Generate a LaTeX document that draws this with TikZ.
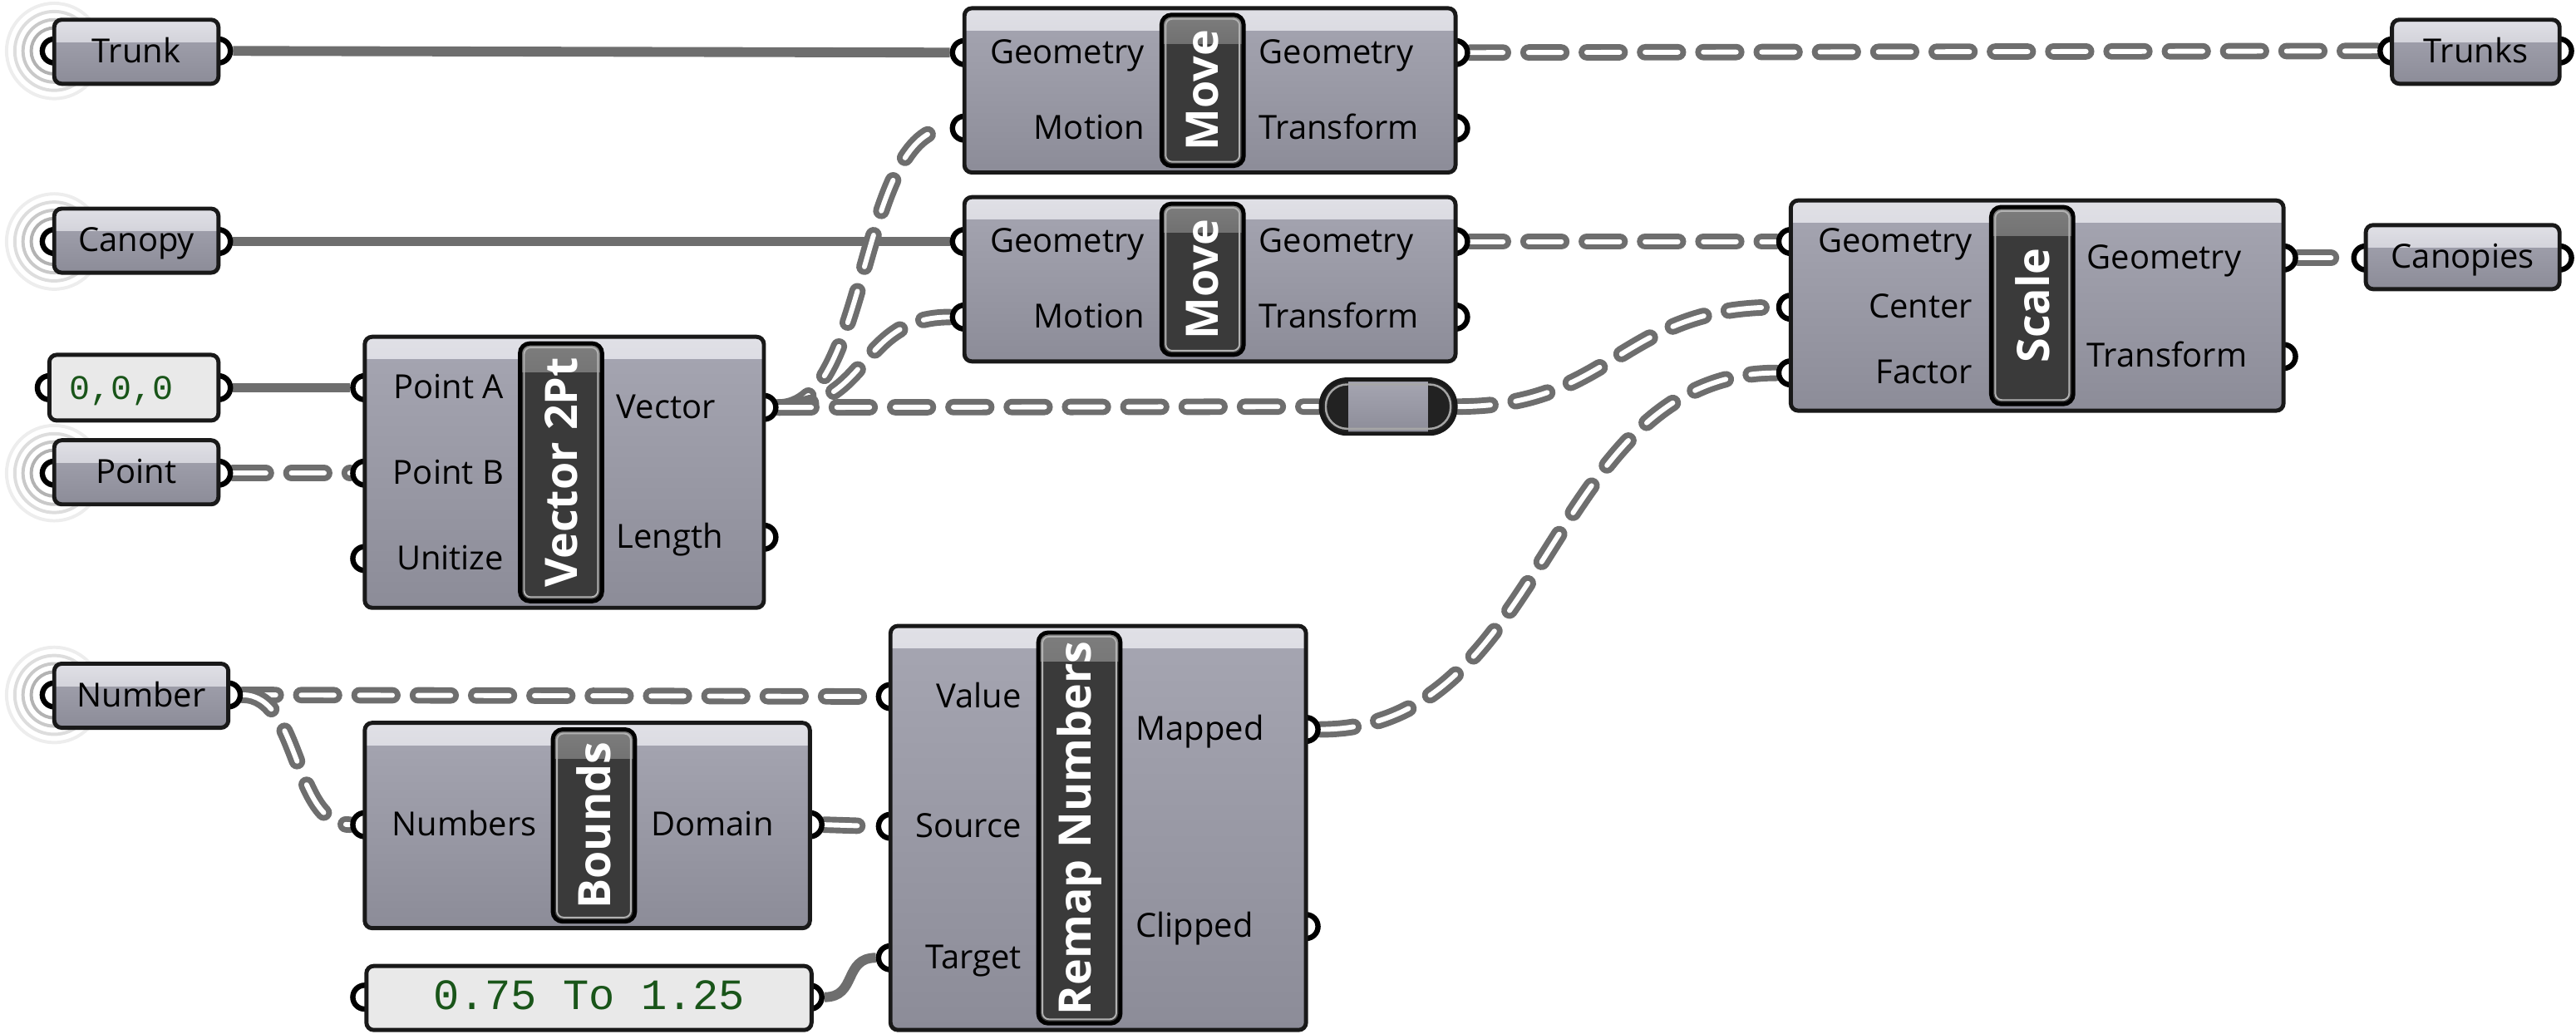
\documentclass[tikz,border=0pt]{standalone}
\usepackage{fontspec}
\setmainfont{Open Sans}
\newfontfamily\ghmono{Liberation Mono}
\usetikzlibrary{backgrounds}

\definecolor{ghline}{RGB}{25,25,25}
\definecolor{ghbodytop}{RGB}{166,166,178}
\definecolor{ghbodybot}{RGB}{140,140,152}
\definecolor{ghbandtop}{RGB}{224,224,230}
\definecolor{ghbandbot}{RGB}{188,188,198}
\definecolor{ghtabdark}{RGB}{58,58,58}
\definecolor{ghtablight}{RGB}{125,125,125}
\definecolor{ghpanelfill}{RGB}{233,233,233}
\definecolor{ghgreen}{RGB}{25,85,25}
\definecolor{ghrelayend}{RGB}{34,34,34}
\definecolor{wiregray}{RGB}{110,110,110}

\newcommand\ghfont{\fontsize{11.5}{13}\selectfont}
\newcommand\ghtabfont{\fontsize{15.5}{17}\selectfont\bfseries}

\tikzset{
  ghbox/.style={rectangle, rounded corners=0.09cm, draw=ghline, line width=0.05cm,
    top color=ghbodytop, bottom color=ghbodybot, inner sep=0pt,
    path picture={\shade[sharp corners, top color=ghbandtop, bottom color=ghbandbot]
      (path picture bounding box.north west) rectangle ([yshift=-0.27cm]path picture bounding box.north east);}},
  ghparam/.style={ghbox, minimum height=0.78cm, font=\ghfont, text height=8pt, text depth=0.5pt},
  ghtab/.style={rectangle, rounded corners=0.12cm, draw=black, line width=0.05cm, fill=ghtabdark,
    text=white, font=\ghtabfont, inner sep=0pt, minimum width=1.0cm,
    path picture={\shade[sharp corners, top color=ghtablight, bottom color=ghtabdark]
      (path picture bounding box.north west) rectangle ([yshift=-0.35cm]path picture bounding box.north east);
      \draw[gray!60, line width=0.02cm, rounded corners=0.08cm]
      ([shift={(0.05cm,-0.05cm)}]path picture bounding box.north west) rectangle ([shift={(-0.05cm,0.05cm)}]path picture bounding box.south east);}},
  ghpanel/.style={rectangle, rounded corners=0.09cm, draw=ghline, line width=0.05cm, fill=ghpanelfill,
    minimum height=0.8cm, text=ghgreen, inner sep=0pt, text height=9pt, text depth=1pt},
  ghrelay/.style={rectangle, rounded corners=0.32cm, draw=ghline, line width=0.05cm, fill=ghrelayend,
    minimum width=1.64cm, minimum height=0.66cm, inner sep=0pt,
    path picture={\shade[sharp corners, top color=ghbodytop, bottom color=ghbodybot]
      ([xshift=-0.48cm]path picture bounding box.north) rectangle ([xshift=0.48cm]path picture bounding box.south);
      \draw[gray!70, line width=0.025cm, rounded corners=0.26cm]
      ([shift={(0.06cm,-0.06cm)}]path picture bounding box.north west) rectangle ([shift={(-0.06cm,0.06cm)}]path picture bounding box.south east);}},
  ghport/.style={circle, draw=black, fill=white, line width=0.065cm, minimum size=0.29cm, inner sep=0pt},
  inlabel/.style={anchor=east, inner sep=0pt, font=\ghfont, text height=8pt, text depth=0.5pt},
  outlabel/.style={inlabel, anchor=west},
  ring/.style={line width=0.04cm},
  wire/.style={draw=wiregray, line width=0.12cm},
  listwire/.style={draw=wiregray, line width=0.07cm, double=white, double distance=0.06cm,
    line cap=round, dash pattern=on 0.4cm off 0.31cm}
}

\begin{document}
\begin{tikzpicture}[x=0.02cm, y=-0.02cm]
    \useasboundingbox (0,0) rectangle (1568,629);

    % wireless rings behind the parameters
    \draw[ring, gray!60] (33,31) circle[radius=14] (33,147) circle[radius=14] (33,288) circle[radius=14] (33,423) circle[radius=14];
    \draw[ring, gray!42] (33,31) circle[radius=19] (33,147) circle[radius=19] (33,288) circle[radius=19] (33,423) circle[radius=19];
    \draw[ring, gray!27] (33,31) circle[radius=24] (33,147) circle[radius=24] (33,288) circle[radius=24] (33,423) circle[radius=24];
    \draw[ring, gray!14] (33,31) circle[radius=29] (33,147) circle[radius=29] (33,288) circle[radius=29] (33,423) circle[radius=29];

    % the ports (the boxes cover half of each)
    \node[ghport] (trunk-in) at (33,31) {};
    \node[ghport] (trunk-out) at (133,31) {};
    \node[ghport] (canopy-in) at (33,147) {};
    \node[ghport] (canopy-out) at (133,147) {};
    \node[ghport] (origin-in) at (30,236) {};
    \node[ghport] (origin-out) at (133,236) {};
    \node[ghport] (point-in) at (33,288) {};
    \node[ghport] (point-out) at (133,288) {};
    \node[ghport] (number-in) at (33,423) {};
    \node[ghport] (number-out) at (139,423) {};
    \node[ghport] (trunks-in) at (1456,31) {};
    \node[ghport] (trunks-out) at (1558,31) {};
    \node[ghport] (canopies-in) at (1440,157) {};
    \node[ghport] (canopies-out) at (1558,157) {};
    \node[ghport] (range-in) at (222,607) {};
    \node[ghport] (range-out) at (493,607) {};
    %
    \node[ghport] (mv1-geo-in) at (587,32) {};
    \node[ghport] (mv1-mot-in) at (587,78) {};
    \node[ghport] (mv1-geo-out) at (886,32) {};
    \node[ghport] (mv1-xf-out) at (886,78) {};
    \node[ghport] (mv2-geo-in) at (587,147) {};
    \node[ghport] (mv2-mot-in) at (587,193) {};
    \node[ghport] (mv2-geo-out) at (886,147) {};
    \node[ghport] (mv2-xf-out) at (886,193) {};
    \node[ghport] (vec-a-in) at (222,236) {};
    \node[ghport] (vec-b-in) at (222,288) {};
    \node[ghport] (vec-u-in) at (222,340) {};
    \node[ghport] (vec-v-out) at (465,248) {};
    \node[ghport] (vec-l-out) at (465,327) {};
    \node[ghport] (sc-geo-in) at (1090,147) {};
    \node[ghport] (sc-cen-in) at (1090,187) {};
    \node[ghport] (sc-fac-in) at (1090,227) {};
    \node[ghport] (sc-geo-out) at (1390,157) {};
    \node[ghport] (sc-xf-out) at (1390,217) {};
    \node[ghport] (bnd-in) at (222,502) {};
    \node[ghport] (bnd-out) at (493,502) {};
    \node[ghport] (rm-val-in) at (542,424) {};
    \node[ghport] (rm-src-in) at (542,503) {};
    \node[ghport] (rm-tgt-in) at (542,583) {};
    \node[ghport] (rm-map-out) at (795,444) {};
    \node[ghport] (rm-clip-out) at (795,564) {};

    % the parameters and panels
    \node[ghparam, minimum width=2.0cm] (trunk) at (83,31.5) {Trunk};
    \node[ghparam, minimum width=2.0cm] (canopy) at (83,146.5) {Canopy};
    \node[ghpanel, minimum width=2.06cm, text width=1.58cm, align=left, inner xsep=0.24cm, font=\ghmono\fontsize{12}{13}\selectfont] (origin) at (81.5,236) {0,0,0};
    \node[ghparam, minimum width=2.0cm] (point) at (83,287.5) {Point};
    \node[ghparam, minimum width=2.12cm] (number) at (86,423.5) {Number};
    \node[ghparam, minimum width=2.04cm] (trunks) at (1507,31.5) {Trunks};
    \node[ghparam, minimum width=2.36cm] (canopies) at (1499,156.5) {Canopies};
    \node[ghpanel, minimum width=5.42cm, minimum height=0.78cm, font=\ghmono\fontsize{15}{16}\selectfont] (range) at (358.5,607.5) {0.75 To 1.25};
    \node[ghrelay] (relay) at (845,247.5) {};

    % the components
    \node[ghbox, minimum width=5.98cm, minimum height=2.0cm] (move1) at (736.5,55) {};
    \node[ghtab, minimum height=1.84cm] (move1-tab) at (732,55) {\rotatebox{90}{Move}};
    \node[ghbox, minimum width=5.98cm, minimum height=2.0cm] (move2) at (736.5,170) {};
    \node[ghtab, minimum height=1.84cm] (move2-tab) at (732,170) {\rotatebox{90}{Move}};
    \node[ghbox, minimum width=4.86cm, minimum height=3.3cm] (vec) at (343.5,287.5) {};
    \node[ghtab, minimum height=3.14cm] (vec-tab) at (341.5,287.5) {\rotatebox{90}{Vector 2Pt}};
    \node[ghbox, minimum width=6.0cm, minimum height=2.56cm] (scale) at (1240,186) {};
    \node[ghtab, minimum height=2.4cm] (scale-tab) at (1237,186) {\rotatebox{90}{Scale}};
    \node[ghbox, minimum width=5.42cm, minimum height=2.5cm] (bounds) at (357.5,502.5) {};
    \node[ghtab, minimum height=2.34cm] (bounds-tab) at (361.5,502.5) {\rotatebox{90}{Bounds}};
    \node[ghbox, minimum width=5.06cm, minimum height=4.92cm] (remap) at (668.5,504) {};
    \node[ghtab, minimum height=4.76cm] (remap-tab) at (657,504) {\rotatebox{90}{Remap Numbers}};

    % the input and output names
    \node[inlabel] (mv1-geo-lbl) at (697,32) {Geometry};
    \node[inlabel] (mv1-mot-lbl) at (697,78) {Motion};
    \node[outlabel] (mv1-geo-olbl) at (766,32) {Geometry};
    \node[outlabel] (mv1-xf-lbl) at (766,78) {Transform};
    \node[inlabel] (mv2-geo-lbl) at (697,147) {Geometry};
    \node[inlabel] (mv2-mot-lbl) at (697,193) {Motion};
    \node[outlabel] (mv2-geo-olbl) at (766,147) {Geometry};
    \node[outlabel] (mv2-xf-lbl) at (766,193) {Transform};
    \node[inlabel] (vec-a-lbl) at (307,236) {Point A};
    \node[inlabel] (vec-b-lbl) at (307,288) {Point B};
    \node[inlabel] (vec-u-lbl) at (307,340) {Unitize};
    \node[outlabel] (vec-v-lbl) at (375,248) {Vector};
    \node[outlabel] (vec-l-lbl) at (375,327) {Length};
    \node[inlabel] (sc-geo-lbl) at (1201,147) {Geometry};
    \node[inlabel] (sc-cen-lbl) at (1201,187) {Center};
    \node[inlabel] (sc-fac-lbl) at (1201,227) {Factor};
    \node[outlabel] (sc-geo-olbl) at (1270,157) {Geometry};
    \node[outlabel] (sc-xf-lbl) at (1270,217) {Transform};
    \node[inlabel] (bnd-in-lbl) at (327,502) {Numbers};
    \node[outlabel] (bnd-out-lbl) at (396,502) {Domain};
    \node[inlabel] (rm-val-lbl) at (622,424) {Value};
    \node[inlabel] (rm-src-lbl) at (622,503) {Source};
    \node[inlabel] (rm-tgt-lbl) at (622,583) {Target};
    \node[outlabel] (rm-map-lbl) at (691,444) {Mapped};
    \node[outlabel] (rm-clip-lbl) at (691,564) {Clipped};

    % the wires, behind everything
    \begin{scope}[on background layer]
    \draw[wire] (trunk-out.east) -- (mv1-geo-in.west);
    \draw[wire] (canopy-out.east) -- (mv2-geo-in.west);
    \draw[wire] (origin-out.east) -- (vec-a-in.west);
    \draw[listwire] (point-out.east) -- (vec-b-in.west);
    \draw[listwire] (vec-v-out.east) .. controls +(56,0) and +(-56,0) .. (mv1-mot-in.west);
    \draw[listwire] (vec-v-out.east) .. controls +(56,0) and +(-56,0) .. (mv2-mot-in.west);
    \draw[listwire] (vec-v-out.east) -- (relay.west);
    \draw[listwire] (mv1-geo-out.east) -- (trunks-in.west);
    \draw[listwire] (mv2-geo-out.east) -- (sc-geo-in.west);
    \draw[listwire] (relay.east) .. controls +(95,0) and +(-95,0) .. (sc-cen-in.west);
    \draw[listwire] (rm-map-out.east) .. controls +(140,0) and +(-140,0) .. (sc-fac-in.west);
    \draw[listwire] (sc-geo-out.east) -- (canopies-in.west);
    \draw[listwire] (number-out.east) -- (rm-val-in.west);
    \draw[listwire] (number-out.east) .. controls +(35,0) and +(-35,0) .. (bnd-in.west);
    \draw[listwire] (bnd-out.east) -- (rm-src-in.west);
    \draw[wire] (range-out.east) .. controls +(20,0) and +(-20,0) .. (rm-tgt-in.west);
    \end{scope}
\end{tikzpicture}
\end{document}
